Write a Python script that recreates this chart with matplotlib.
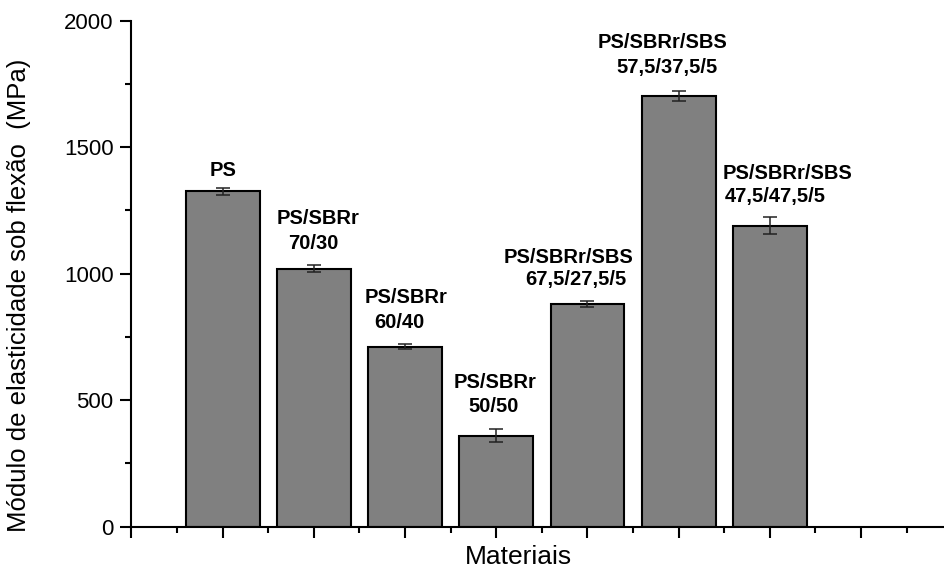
import numpy as np
import matplotlib
matplotlib.use("Agg")
import matplotlib.pyplot as plt
from matplotlib.ticker import MultipleLocator

plt.rcParams['font.family'] = ['Liberation Sans', 'DejaVu Sans']

# flexural modulus per blend (MPa) with standard deviation
materials = ["PS", "PS/SBRr 70/30", "PS/SBRr 60/40", "PS/SBRr 50/50",
             "PS/SBRr/SBS 67,5/27,5/5", "PS/SBRr/SBS 57,5/37,5/5",
             "PS/SBRr/SBS 47,5/47,5/5"]
label_top = ["PS", "PS/SBRr", "PS/SBRr", "PS/SBRr", "PS/SBRr/SBS", "PS/SBRr/SBS", "PS/SBRr/SBS"]
label_bottom = ["", "70/30", "60/40", "50/50", "67,5/27,5/5", "57,5/37,5/5", "47,5/47,5/5"]
modulus = [1325, 1020, 712, 360, 882, 1702, 1190]
modulus_err = [15, 15, 10, 27, 12, 21, 33]

# label placement in pixels relative to bar top: (dx top, dy top, dx bottom, dy bottom)
label_offsets = [(0, 21, 0, 0), (4, 50, -1, 25), (1, 49, -6, 24), (-1, 53, -3, 29),
                 (-19, 46, -12, 24), (-16, 54, -12, 29), (18, 52, 5, 29)]

fig = plt.figure(figsize=(9.44, 5.71), dpi=100)
ax = fig.add_axes([0.1393, 0.0776, 0.8607, 0.8861])

x = np.arange(1, len(modulus) + 1)
ax.bar(x, modulus, width=0.81, color="#808080", edgecolor="black", linewidth=1.5, zorder=2)
ax.errorbar(x, modulus, yerr=modulus_err, fmt="none", ecolor="#222222",
            elinewidth=1.1, capsize=5, capthick=1.1, zorder=3)

for i in range(len(modulus)):
    dx1, dy1, dx2, dy2 = label_offsets[i]
    ax.annotate(label_top[i], xy=(x[i], modulus[i]), xytext=(dx1, dy1),
                textcoords="offset pixels", ha="center", va="center",
                fontsize=14.5, fontweight="bold")
    if label_bottom[i]:
        ax.annotate(label_bottom[i], xy=(x[i], modulus[i]), xytext=(dx2, dy2),
                    textcoords="offset pixels", ha="center", va="center",
                    fontsize=14.5, fontweight="bold")

ax.set_xlim(0, 8.91)
ax.set_ylim(0, 2000)
ax.xaxis.set_major_locator(MultipleLocator(1))
ax.xaxis.set_minor_locator(MultipleLocator(0.5))
ax.yaxis.set_major_locator(MultipleLocator(500))
ax.yaxis.set_minor_locator(MultipleLocator(250))
ax.set_xticklabels([])

for side in ["top", "right"]:
    ax.spines[side].set_visible(False)
for side in ["left", "bottom"]:
    ax.spines[side].set_linewidth(1.5)

ax.tick_params(axis="both", which="major", direction="out", length=8, width=1.5, labelsize=16)
ax.tick_params(axis="both", which="minor", direction="out", length=4, width=1.5)
ax.tick_params(axis="y", pad=5)

ax.set_xlabel("Materiais", fontsize=19)
ax.xaxis.set_label_coords(0.476, -0.036)
ax.set_ylabel("Módulo de elasticidade sob flexão  (MPa)", fontsize=18.5)
ax.yaxis.set_label_coords(-0.124, 0.458)

fig.savefig("out.png", dpi=100)
